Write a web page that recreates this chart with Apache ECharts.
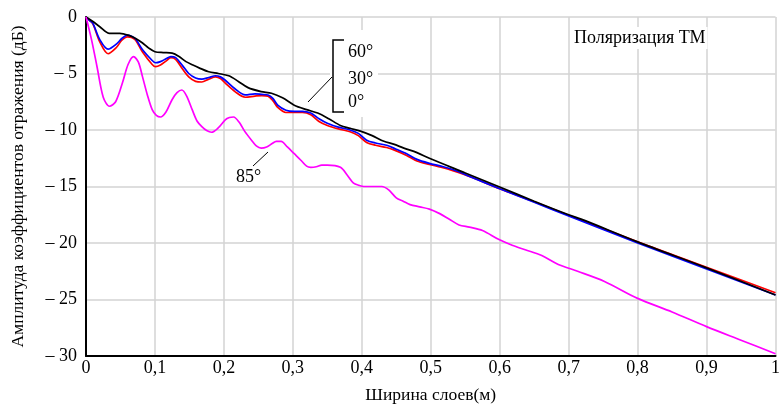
<!DOCTYPE html>
<html>
<head>
<meta charset="utf-8">
<script src="https://cdn.jsdelivr.net/npm/echarts@6/dist/echarts.min.js"></script>
<style>
html,body{margin:0;padding:0;background:#fff;}
#chart{width:783px;height:409px;}
</style>
</head>
<body>
<div id="chart"></div>
<script>
// ---- Data ----
const xTicks = [0, 0.1, 0.2, 0.3, 0.4, 0.5, 0.6, 0.7, 0.8, 0.9, 1];
const yTicks = [0, -5, -10, -15, -20, -25, -30];

// 85° (magenta)
const x85 = [0, 0.008, 0.016, 0.025, 0.034, 0.043, 0.053, 0.061, 0.069, 0.076, 0.082, 0.089, 0.096, 0.102, 0.108, 0.116, 0.125, 0.132, 0.139, 0.146, 0.154, 0.161, 0.168, 0.175, 0.182, 0.192, 0.202, 0.208, 0.214, 0.222, 0.230, 0.240, 0.247, 0.254, 0.262, 0.270, 0.276, 0.283, 0.292, 0.302, 0.312, 0.320, 0.326, 0.334, 0.342, 0.350, 0.369, 0.379, 0.388, 0.396, 0.403, 0.416, 0.429, 0.439, 0.450, 0.460, 0.470, 0.484, 0.498, 0.513, 0.527, 0.541, 0.556, 0.575, 0.599, 0.618, 0.637, 0.661, 0.685, 0.713, 0.752, 0.80, 0.85, 0.90, 0.95, 1.0];
const y85 = [0, -2.0, -4.4, -7.1, -7.9, -7.5, -5.8, -4.2, -3.5, -4.0, -5.3, -6.9, -8.2, -8.7, -8.85, -8.4, -7.3, -6.7, -6.46, -7.0, -8.2, -9.2, -9.7, -10.05, -10.2, -9.8, -9.1, -8.9, -8.85, -9.3, -10.1, -10.9, -11.4, -11.6, -11.5, -11.2, -11.0, -11.0, -11.5, -12.1, -12.7, -13.2, -13.3, -13.25, -13.1, -13.1, -13.3, -14.0, -14.7, -14.9, -15.0, -15.0, -15.0, -15.3, -16.0, -16.3, -16.6, -16.8, -17.0, -17.4, -17.9, -18.4, -18.6, -18.9, -19.7, -20.2, -20.6, -21.1, -21.9, -22.5, -23.4, -24.9, -26.1, -27.4, -28.6, -29.8];

// 60° (black)
const x60 = [0, 0.01, 0.02, 0.034, 0.049, 0.063, 0.072, 0.082, 0.091, 0.10, 0.112, 0.125, 0.135, 0.145, 0.155, 0.164, 0.178, 0.192, 0.207, 0.221, 0.235, 0.254, 0.269, 0.285, 0.302, 0.32, 0.336, 0.352, 0.369, 0.383, 0.398, 0.415, 0.432, 0.446, 0.461, 0.48, 0.498, 0.55, 0.6, 0.65, 0.7, 0.723, 0.8, 0.9, 1.0];
const y60 = [0, -0.4, -0.86, -1.45, -1.45, -1.65, -1.9, -2.3, -2.75, -3.07, -3.15, -3.2, -3.5, -3.95, -4.25, -4.5, -4.85, -5.0, -5.2, -5.7, -6.25, -6.6, -6.75, -7.15, -7.8, -8.2, -8.5, -9.0, -9.6, -9.85, -10.1, -10.5, -11.0, -11.25, -11.6, -12.0, -12.5, -13.8, -15.05, -16.3, -17.5, -18.0, -19.9, -22.2, -24.6];

// 30° (blue) and 0° (red) share sample positions
const x30 = [0, 0.005, 0.01, 0.02, 0.032, 0.044, 0.052, 0.06, 0.066, 0.072, 0.082, 0.096, 0.101, 0.108, 0.116, 0.123, 0.13, 0.14, 0.149, 0.159, 0.168, 0.178, 0.188, 0.195, 0.202, 0.216, 0.231, 0.245, 0.255, 0.264, 0.271, 0.278, 0.29, 0.302, 0.314, 0.326, 0.338, 0.35, 0.366, 0.383, 0.395, 0.407, 0.42, 0.436, 0.45, 0.465, 0.48, 0.498, 0.515, 0.532, 0.56, 0.6, 0.65, 0.7, 0.8, 0.9, 1.0];
const y30 = [0, -0.3, -0.56, -2.0, -2.85, -2.4, -1.9, -1.6, -1.7, -1.95, -2.9, -3.85, -4.05, -3.95, -3.7, -3.5, -3.6, -4.3, -5.0, -5.4, -5.5, -5.35, -5.2, -5.3, -5.6, -6.35, -6.9, -6.8, -6.85, -6.9, -7.2, -7.8, -8.25, -8.35, -8.35, -8.5, -9.0, -9.4, -9.75, -10.0, -10.3, -10.9, -11.15, -11.35, -11.7, -12.1, -12.6, -12.95, -13.2, -13.5, -14.2, -15.2, -16.4, -17.6, -20.0, -22.3, -24.6];
const x0 = x30;
const y0 = [0, -0.3, -0.6, -2.2, -3.25, -2.7, -2.05, -1.75, -1.8, -2.05, -3.1, -4.2, -4.4, -4.25, -3.9, -3.6, -3.75, -4.6, -5.3, -5.7, -5.75, -5.5, -5.3, -5.45, -5.85, -6.6, -7.1, -7.0, -6.95, -7.0, -7.4, -8.0, -8.45, -8.45, -8.45, -8.65, -9.25, -9.6, -9.9, -10.15, -10.5, -11.1, -11.35, -11.55, -11.85, -12.25, -12.75, -13.05, -13.3, -13.6, -14.2, -15.2, -16.35, -17.55, -19.9, -22.15, -24.4];

const xTitle = 'Ширина слоев(м)';
const yTitle = 'Амплитуда коэффициентов отражения (дБ)';

// ---- Chart ----
const serif = '"Liberation Serif", "Times New Roman", serif';
const pair = (xs, ys) => xs.map((x, i) => [x, ys[i]]);
const fmtX = v => v === 0 ? '0' : (v === 1 ? '1' : String(+v.toFixed(1)).replace('.', ','));
const fmtY = v => v === 0 ? '0' : '\u2013 ' + Math.abs(v);

const chart = echarts.init(document.getElementById('chart'), null, {renderer: 'canvas'});
const lineSeries = (name, data, color) => ({
  name, type: 'line', data, showSymbol: false, symbol: 'none', smooth: 0.3,
  lineStyle: {color, width: 1.7}, animation: false, z: 3
});

chart.setOption({
  animation: false,
  backgroundColor: '#fff',
  grid: {left: 86, right: 0, top: 17, bottom: 53, containLabel: false},
  xAxis: {
    type: 'value', min: 0, max: 1, interval: 0.1,
    axisLine: {show: true, onZero: false, lineStyle: {color: '#000', width: 2}},
    axisTick: {show: false},
    splitLine: {show: true, lineStyle: {color: '#d3d3d3', width: 1.5}},
    axisLabel: {formatter: fmtX, color: '#000', fontFamily: serif, fontSize: 18, margin: 3, showMaxLabel: true},
    name: xTitle, nameLocation: 'middle', nameGap: 30,
    nameTextStyle: {color: '#000', fontFamily: serif, fontSize: 17.5}
  },
  yAxis: {
    type: 'value', min: -30, max: 0, interval: 5,
    axisLine: {show: true, onZero: false, lineStyle: {color: '#000', width: 2}},
    axisTick: {show: false},
    splitLine: {show: true, lineStyle: {color: '#d3d3d3', width: 1.5}},
    axisLabel: {formatter: fmtY, color: '#000', fontFamily: serif, fontSize: 18, margin: 9},
    name: yTitle, nameLocation: 'middle', nameGap: 59, nameRotate: 90,
    nameTextStyle: {color: '#000', fontFamily: serif, fontSize: 17.5}
  },
  series: [
    lineSeries('0°', pair(x0, y0), '#ff0000'),
    lineSeries('30°', pair(x30, y30), '#0000ff'),
    lineSeries('60°', pair(x60, y60), '#000000'),
    lineSeries('85°', pair(x85, y85), '#ff00ff')
  ],
  graphic: [
    {type: 'rect', shape: {x: 330, y: 30, width: 48, height: 87}, style: {fill: '#fff'}, z: 10},
    {type: 'polyline', shape: {points: [[344, 40], [333, 40], [333, 112], [344, 112]]}, style: {stroke: '#000', lineWidth: 1.5, fill: null}, z: 11},
    {type: 'line', shape: {x1: 332, y1: 77, x2: 308, y2: 102}, style: {stroke: '#000', lineWidth: 1}, z: 11},
    {type: 'text', left: 348, top: 43, style: {text: '60°', font: '18px ' + serif, fill: '#000'}, z: 11},
    {type: 'text', left: 348, top: 70, style: {text: '30°', font: '18px ' + serif, fill: '#000'}, z: 11},
    {type: 'text', left: 348, top: 93, style: {text: '0°', font: '18px ' + serif, fill: '#000'}, z: 11},
    {type: 'text', left: 572, top: 27, style: {text: 'Поляризация ТМ', font: '18px ' + serif, fill: '#000', backgroundColor: '#fff', padding: [2, 2]}, z: 11},
    {type: 'line', shape: {x1: 253, y1: 166, x2: 268, y2: 152}, style: {stroke: '#000', lineWidth: 1}, z: 11},
    {type: 'text', left: 236, top: 168, style: {text: '85°', font: '18px ' + serif, fill: '#000'}, z: 11}
  ]
});
</script>
</body>
</html>
